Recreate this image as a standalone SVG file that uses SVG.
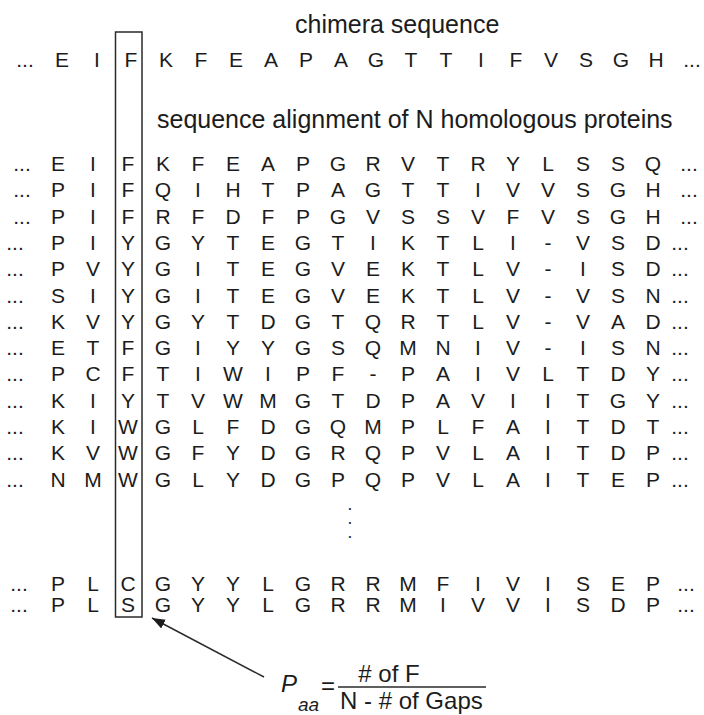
<svg xmlns="http://www.w3.org/2000/svg" width="704" height="715" viewBox="0 0 704 715">
<defs>
<style>
.t{font-family:"Liberation Sans",Arial,sans-serif;fill:#1c1c1c}
.r{font-size:21px;text-anchor:middle}
.h{font-size:25px}
.f{font-size:24px}
.it{font-style:italic}
.dt{font-size:12px;font-weight:bold;text-anchor:middle}
.ln{stroke:#2a2a2a;stroke-width:1.5;fill:none}
</style>
<marker id="ah" markerUnits="userSpaceOnUse" markerWidth="14" markerHeight="12" refX="13" refY="5" orient="auto">
<path d="M0,0 L13,5 L0,10 z" fill="#1c1c1c"/>
</marker>
</defs>
<rect width="704" height="715" fill="#ffffff"/>

<g id="chimera-header"><text class="t h" x="295" y="33">chimera sequence</text></g>
<g id="chimera-row"><text class="t r" y="67"><tspan x="25">...</tspan><tspan x="62 97 131 166 201 236 271 306 341 376 411 446 481 516 551 586 621 656">EIFKFEAPAGTTIFVSGH</tspan><tspan x="692">...</tspan></text></g>

<g id="alignment-header"><text class="t h" x="157" y="128">sequence alignment of N homologous proteins</text></g>

<g id="alignment">
<text class="t r" y="171"><tspan x="22">...</tspan><tspan x="58 93 128 163 198 233 268 303 338 373 408 443 478 513 548 583 618 653">EIFKFEAPGRVTRYLSSQ</tspan><tspan x="689">...</tspan></text>
<text class="t r" y="197"><tspan x="22">...</tspan><tspan x="58 93 128 163 198 233 268 303 338 373 408 443 478 513 548 583 618 653">PIFQIHTPAGTTIVVSGH</tspan><tspan x="689">...</tspan></text>
<text class="t r" y="224"><tspan x="22">...</tspan><tspan x="58 93 128 163 198 233 268 303 338 373 408 443 478 513 548 583 618 653">PIFRFDFPGVSSVFVSGH</tspan><tspan x="689">...</tspan></text>
<text class="t r" y="250"><tspan x="15">...</tspan><tspan x="58 93 128 163 198 233 268 303 338 373 408 443 478 513 548 583 618 653">PIYGYTEGTIKTLI-VSD</tspan><tspan x="680">...</tspan></text>
<text class="t r" y="276"><tspan x="15">...</tspan><tspan x="58 93 128 163 198 233 268 303 338 373 408 443 478 513 548 583 618 653">PVYGITEGVEKTLV-ISD</tspan><tspan x="680">...</tspan></text>
<text class="t r" y="303"><tspan x="15">...</tspan><tspan x="58 93 128 163 198 233 268 303 338 373 408 443 478 513 548 583 618 653">SIYGITEGVEKTLV-VSN</tspan><tspan x="680">...</tspan></text>
<text class="t r" y="329"><tspan x="15">...</tspan><tspan x="58 93 128 163 198 233 268 303 338 373 408 443 478 513 548 583 618 653">KVYGYTDGTQRTLV-VAD</tspan><tspan x="680">...</tspan></text>
<text class="t r" y="355"><tspan x="15">...</tspan><tspan x="58 93 128 163 198 233 268 303 338 373 408 443 478 513 548 583 618 653">ETFGIYYGSQMNIV-ISN</tspan><tspan x="680">...</tspan></text>
<text class="t r" y="381"><tspan x="15">...</tspan><tspan x="58 93 128 163 198 233 268 303 338 373 408 443 478 513 548 583 618 653">PCFTIWIPF-PAIVLTDY</tspan><tspan x="680">...</tspan></text>
<text class="t r" y="408"><tspan x="15">...</tspan><tspan x="58 93 128 163 198 233 268 303 338 373 408 443 478 513 548 583 618 653">KIYTVWMGTDPAVIITGY</tspan><tspan x="680">...</tspan></text>
<text class="t r" y="434"><tspan x="15">...</tspan><tspan x="58 93 128 163 198 233 268 303 338 373 408 443 478 513 548 583 618 653">KIWGLFDGQMPLFAITDT</tspan><tspan x="680">...</tspan></text>
<text class="t r" y="460"><tspan x="15">...</tspan><tspan x="58 93 128 163 198 233 268 303 338 373 408 443 478 513 548 583 618 653">KVWGFYDGRQPVLAITDP</tspan><tspan x="680">...</tspan></text>
<text class="t r" y="487"><tspan x="15">...</tspan><tspan x="58 93 128 163 198 233 268 303 338 373 408 443 478 513 548 583 618 653">NMWGLYDGPQPVLAITEP</tspan><tspan x="680">...</tspan></text>
<text class="t dt"><tspan x="350" y="510">.</tspan><tspan x="350" y="524">.</tspan><tspan x="350" y="538">.</tspan></text>
<text class="t r" y="591"><tspan x="19">...</tspan><tspan x="58 93 128 163 198 233 268 303 338 373 408 443 478 513 548 583 618 653">PLCGYYLGRRMFIVISEP</tspan><tspan x="686">...</tspan></text>
<text class="t r" y="612"><tspan x="19">...</tspan><tspan x="58 93 128 163 198 233 268 303 338 373 408 443 478 513 548 583 618 653">PLSGYYLGRRMIVVISDP</tspan><tspan x="686">...</tspan></text>
</g>

<g id="column-box"><rect class="ln" x="115.5" y="32" width="26.5" height="585"/></g>

<g id="connectors">
<line class="ln" x1="264" y1="677" x2="152" y2="618" marker-end="url(#ah)"/>
</g>

<g id="formula">
<text class="t f it" x="281" y="692">P</text>
<text class="t it" x="298" y="711" style="font-size:19px">aa</text>
<text class="t f" x="321" y="694">=</text>
<line class="ln" x1="338" y1="687" x2="486" y2="687"/>
<text class="t f" x="389" y="682" text-anchor="middle"># of F</text>
<text class="t f" x="340" y="709">N - # of Gaps</text>
</g>
</svg>
